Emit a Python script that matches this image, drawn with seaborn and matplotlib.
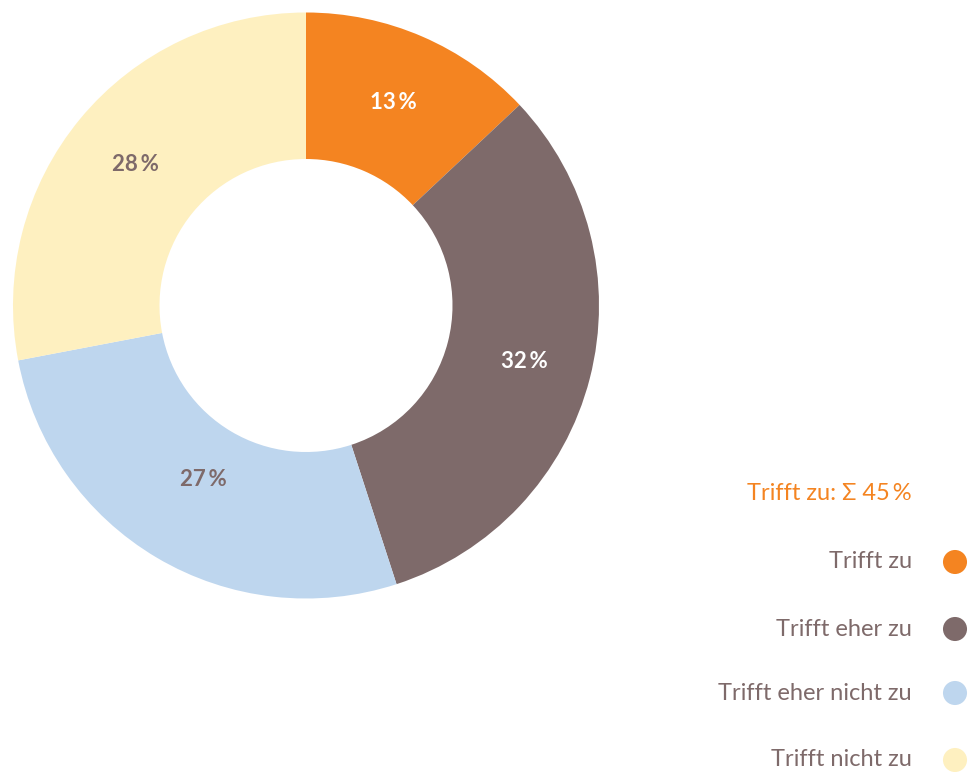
import matplotlib
matplotlib.use("Agg")
import matplotlib.pyplot as plt
import numpy as np
import seaborn as sns

categories = ["Trifft zu", "Trifft eher zu", "Trifft eher nicht zu", "Trifft nicht zu"]
values = [13, 32, 27, 28]
colors = ["#F48421", "#7E6A6A", "#BED6EE", "#FEF0C0"]
label_colors = ["white", "white", "#7E6A6A", "#7E6A6A"]
summary_label = "Trifft zu: Σ 45\u2009%"

sns.set_theme(style="white")
plt.rcParams['font.family'] = ['Lato', 'DejaVu Sans']

W, H = 976, 772
fig = plt.figure(figsize=(W / 100, H / 100), dpi=100)

# Donut axes
cx, cy, R = 306, 305.5, 293
ax = fig.add_axes([(cx - R) / W, (H - cy - R) / H, 2 * R / W, 2 * R / H])
wedges, texts = ax.pie(
    values, colors=colors, startangle=90, counterclock=False,
    radius=1, wedgeprops=dict(width=0.5, linewidth=0),
)
label_dist = [0.755, 0.77, 0.69, 0.755]
for w, v, c, d in zip(wedges, values, label_colors, label_dist):
    ang = np.deg2rad((w.theta1 + w.theta2) / 2)
    ax.text(d * np.cos(ang), d * np.sin(ang), f"{v}\u2009%", ha="center", va="center",
            color=c, fontsize=16, fontweight="bold")
ax.set_xlim(-1, 1)
ax.set_ylim(-1, 1)
ax.set_aspect("equal")
ax.axis("off")

# Legend in pixel coordinates
lax = fig.add_axes([0, 0, 1, 1])
lax.set_xlim(0, W)
lax.set_ylim(H, 0)
lax.axis("off")
lax.text(912, 493, summary_label, ha="right", va="center", color="#F48421", fontsize=17)
ys = [562, 629, 693, 760]
for cat, col, y in zip(categories, colors, ys):
    lax.text(912, y, cat, ha="right", va="center", color="#7E6A6A", fontsize=17)
lax.scatter([955] * len(ys), ys, s=300, c=colors, linewidths=0)

fig.savefig("out.png", dpi=100)
